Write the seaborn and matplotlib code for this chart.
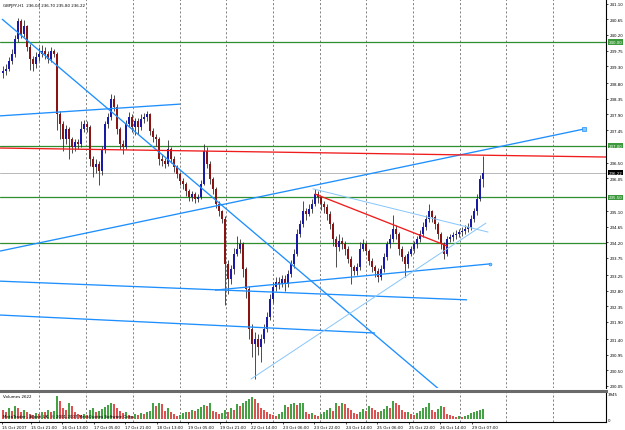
import numpy as np
import pandas as pd
import matplotlib
matplotlib.use("Agg")
import matplotlib.pyplot as plt
import matplotlib.transforms as mtransforms
import seaborn as sns

# ---------------- data ----------------
title_text = "GBPJPY,H1  236.04 236.70 235.80 236.22"
first_open = 239.10
closes = [239.16, 239.22, 239.45, 239.65, 240.08, 240.60, 240.23, 240.46, 239.85, 239.50,
          239.36, 239.56, 239.65, 239.74, 239.65, 239.50, 239.74, 239.65, 237.91, 237.62,
          237.19, 237.48, 237.19, 236.96, 237.10, 237.05, 237.48, 237.62, 237.54, 236.61,
          236.38, 236.47, 236.27, 236.90, 237.62, 237.83, 238.35, 238.12, 237.48, 237.05,
          236.96, 237.62, 237.83, 237.54, 237.71, 237.54, 237.77, 237.83, 237.91, 237.42,
          237.25, 237.19, 236.61, 236.55, 236.47, 236.90, 236.61, 236.38, 236.18, 235.98,
          235.89, 235.69, 235.51, 235.60, 235.46, 235.51, 235.89, 236.84, 236.47, 236.03,
          235.75, 235.31, 235.11, 234.88, 233.58, 233.14, 233.43, 233.87, 234.01, 234.15,
          233.43, 232.85, 231.70, 231.26, 231.41, 231.18, 231.41, 231.70, 232.04, 232.56,
          232.91, 233.06, 233.00, 233.14, 233.00, 233.29, 233.58, 233.87, 234.44, 234.73,
          235.11, 235.02, 235.17, 235.31, 235.60, 235.51, 235.31, 235.22, 235.02, 234.73,
          234.30, 234.07, 234.24, 234.15, 234.01, 233.72, 233.49, 233.37, 233.49, 234.01,
          234.15, 233.95, 233.66, 233.49, 233.37, 233.20, 233.43, 233.78, 234.15, 234.30,
          234.59, 234.44, 234.01, 233.78, 233.58, 233.87, 234.01, 234.15, 234.30, 234.44,
          234.65, 234.88, 235.11, 234.94, 234.73, 234.44, 234.15, 233.87, 234.30, 234.36,
          234.41, 234.44, 234.50, 234.53, 234.59, 234.65, 234.88, 235.11, 235.46, 236.04,
          236.22]
highs = [239.30, 239.35, 239.55, 239.80, 240.20, 240.68, 240.65, 240.62, 240.50, 239.95,
         239.60, 239.70, 239.85, 239.90, 239.85, 239.75, 239.85, 239.80, 239.70, 238.00,
         237.70, 237.60, 237.55, 237.25, 237.20, 237.20, 237.70, 237.75, 237.70, 237.60,
         236.70, 236.60, 236.55, 237.00, 237.70, 237.95, 238.50, 238.45, 238.20, 237.55,
         237.15, 237.75, 237.98, 237.90, 237.80, 237.80, 237.90, 237.95, 238.00, 237.95,
         237.50, 237.35, 237.25, 236.75, 236.65, 237.15, 236.95, 236.70, 236.45, 236.25,
         236.05, 235.95, 235.75, 235.70, 235.65, 235.60, 236.00, 237.05, 236.95, 236.55,
         236.10, 235.80, 235.40, 235.15, 234.95, 233.70, 233.55, 234.05, 234.40, 234.30,
         234.20, 233.50, 232.95, 231.85, 231.60, 231.55, 231.55, 231.85, 232.20, 232.70,
         233.05, 233.20, 233.20, 233.25, 233.25, 233.40, 233.70, 234.00, 234.60, 234.85,
         235.40, 235.20, 235.30, 235.45, 235.75, 235.70, 235.55, 235.40, 235.30, 235.10,
         234.80, 234.40, 234.45, 234.35, 234.25, 234.10, 233.80, 233.55, 233.60, 234.20,
         234.30, 234.20, 234.00, 233.75, 233.55, 233.45, 233.55, 233.90, 234.25, 234.45,
         235.00, 234.70, 234.50, 234.10, 233.85, 233.95, 234.10, 234.25, 234.40, 234.55,
         234.80, 235.00, 235.30, 235.15, 235.00, 234.80, 234.50, 234.20, 234.40, 234.45,
         234.50, 234.55, 234.60, 234.65, 234.70, 234.75, 235.00, 235.20, 235.60, 236.15,
         236.70]
lows = [238.95, 239.05, 239.15, 239.35, 239.55, 240.00, 240.10, 240.15, 239.75, 239.20,
        239.15, 239.25, 239.45, 239.55, 239.50, 239.40, 239.42, 239.55, 237.45, 237.20,
        236.85, 237.05, 236.60, 236.80, 236.85, 236.90, 236.95, 237.40, 237.40, 236.40,
        236.10, 236.20, 235.85, 236.15, 236.80, 237.50, 237.75, 238.00, 237.35, 236.90,
        236.75, 236.90, 237.55, 237.40, 237.30, 237.35, 237.45, 237.65, 237.70, 237.30,
        237.10, 237.00, 236.45, 236.40, 236.35, 236.40, 236.50, 236.25, 236.05, 235.85,
        235.75, 235.55, 235.40, 235.40, 235.35, 235.38, 235.45, 235.85, 236.35, 235.90,
        235.60, 235.20, 234.95, 234.75, 232.40, 232.70, 233.00, 233.30, 233.80, 233.90,
        233.20, 232.60, 231.40, 230.90, 230.25, 230.95, 230.75, 231.30, 231.60, 231.95,
        232.45, 232.80, 232.85, 232.90, 232.80, 232.90, 233.20, 233.45, 233.80, 234.35,
        234.65, 234.85, 234.95, 235.05, 235.25, 235.35, 235.15, 235.05, 234.85, 234.60,
        234.10, 233.50, 233.95, 234.00, 233.85, 233.60, 233.00, 233.25, 233.25, 233.40,
        233.95, 233.85, 233.55, 233.35, 233.20, 233.05, 233.10, 233.35, 233.70, 234.05,
        234.20, 234.30, 233.85, 233.65, 233.20, 233.45, 233.80, 233.90, 234.05, 234.20,
        234.35, 234.55, 234.80, 234.80, 234.60, 234.30, 234.00, 233.72, 233.80, 234.20,
        234.25, 234.30, 234.35, 234.40, 234.45, 234.50, 234.55, 234.80, 235.00, 235.40,
        235.80]
volumes = [1400, 1130, 1700, 1270, 2000, 1700, 1130, 1400, 1000, 700,
           560, 850, 700, 1130, 1000, 1400, 1130, 1270, 3500, 2800,
           1700, 1400, 2500, 2000, 1130, 700, 560, 700, 560, 1400,
           1700, 1130, 1270, 1550, 1830, 2100, 2400, 2250, 1700, 1270,
           850, 1000, 560, 420, 700, 560, 850, 700, 1000, 1270,
           2400, 2000, 2500, 2250, 1270, 1700, 1000, 700, 420, 560,
           850, 1130, 1000, 1400, 1270, 1550, 1830, 2100, 2000, 2500,
           1270, 1000, 700, 850, 1400, 1130, 1700, 1400, 2250, 2000,
           2400, 2800, 3100, 3400, 3100, 2500, 1700, 1400, 1000, 700,
           560, 420, 700, 1130, 2100, 1830, 2250, 2400, 2100, 2400,
           2500, 1130, 700, 850, 560, 420, 700, 1000, 1400, 1700,
           1270, 2400, 2000, 2500, 2250, 1700, 1400, 850, 700, 1130,
           1550, 1270, 2000, 1700, 1400, 1130, 1270, 1550, 2000, 1700,
           2800, 2500, 2100, 1400, 1000, 1130, 700, 560, 850, 1270,
           1700, 1830, 2400, 1400, 1130, 1550, 2000, 1830, 700, 560,
           420, 280, 420, 280, 420, 560, 850, 1130, 1270, 1400,
           1550]

price_labels = [241.10, 240.65, 240.20, 239.75, 239.30, 238.80, 238.35, 237.90, 237.45,
                236.50, 236.05, 235.10, 234.65, 234.20, 233.75, 233.25, 232.80, 232.35,
                231.90, 231.40, 230.95, 230.50, 230.05]
green_levels = [240.00, 237.00, 235.50, 234.18]
boxed_levels = [240.00, 237.00, 235.50]
bid_price = 236.22

date_labels = ["15 Oct 2007", "15 Oct 21:00", "16 Oct 13:00", "17 Oct 05:00", "17 Oct 21:00",
               "18 Oct 13:00", "19 Oct 05:00", "19 Oct 21:00", "22 Oct 14:00", "23 Oct 06:00",
               "23 Oct 22:00", "24 Oct 14:00", "25 Oct 06:00", "25 Oct 22:00", "26 Oct 14:00",
               "29 Oct 07:00"]
date_ticks = [-0.33, 9.33, 19.67, 30.33, 40.67, 51.33, 61.67, 72.33, 82.67, 93.33,
              103.67, 114.33, 124.67, 135.33, 145.67, 156.33]
day_grid = [12, 27.67, 43.33, 59, 74.33, 90, 105.67, 121, 136.67, 152.33, 167.67, 183.33]

# trendlines: (x0, p0, x1, p1)
blue_lines = [(-0.33, 240.66, 145.67, 229.93),
              (-1, 237.86, 59, 238.20),
              (-1, 233.95, 193.67, 237.48),
              (-1, 233.08, 154.67, 232.54),
              (-1, 232.10, 124, 231.58),
              (70.67, 232.82, 162.33, 233.58)]
light_blue_lines = [(82.67, 230.25, 161, 234.76),
                    (103.33, 235.75, 161.67, 234.50)]
red_lines = [(-1, 236.93, 201, 236.67),
             (104, 235.60, 148, 234.10)]

# ---------------- figure ----------------
sns.set_theme(style="white")
plt.rcParams["font.family"] = ["DejaVu Sans"]
FS = 2.9
W, H = 625, 431
fig = plt.figure(figsize=(W / 100, H / 100), dpi=100, facecolor="white")
ax = fig.add_axes([0, 42 / H, 606 / W, 389 / H])
vax = fig.add_axes([0, 8 / H, 606 / W, 31 / H], sharex=ax)

n = len(closes)
idx = np.arange(n)
opens = np.array([first_open] + closes[:-1])
closes_a = np.array(closes)
up = closes_a >= opens

# grid
for g in day_grid:
    for a in (ax, vax):
        a.axvline(g, color="#6e6e6e", lw=0.6, ls=(0, (2.5, 2.5)), zorder=0)

# horizontal levels
for lv in green_levels:
    ax.axhline(lv, color="#2f8f2f", lw=0.9, zorder=1)
ax.axhline(bid_price, color="#b8b8b8", lw=0.7, zorder=1)

# candles
ax.vlines(idx, lows, highs, color="#2e2e2e", lw=0.6, zorder=3)
body = np.where(np.abs(closes_a - opens) < 0.03, 0.03, closes_a - opens)
ax.bar(idx[up], body[up], bottom=opens[up], width=0.8, color="#1a1aa8", lw=0, zorder=4)
ax.bar(idx[~up], body[~up], bottom=opens[~up], width=0.8, color="#8a1414", lw=0, zorder=4)

# trendlines
for x0, p0, x1, p1 in blue_lines:
    ax.plot([x0, x1], [p0, p1], color="#1e8fff", lw=0.95, zorder=5, solid_capstyle="butt")
for x0, p0, x1, p1 in light_blue_lines:
    ax.plot([x0, x1], [p0, p1], color="#86c5fa", lw=0.7, zorder=5)
for x0, p0, x1, p1 in red_lines:
    ax.plot([x0, x1], [p0, p1], color="#f01c1c", lw=0.95, zorder=5)
ax.plot([blue_lines[2][2]], [blue_lines[2][3]], marker="s", ms=2.2, mfc="#86c5fa",
        mec="#1e8fff", mew=0.5, zorder=6)
ax.plot([blue_lines[5][2]], [blue_lines[5][3]], marker="o", ms=2.0, mfc="#86c5fa",
        mec="#1e8fff", mew=0.5, zorder=6)

ax.set_xlim(-1, 201)
ax.set_ylim(229.99, 241.24)
ax.yaxis.tick_right()
ax.set_yticks(price_labels)
ax.set_yticklabels([f"{v:.2f}" for v in price_labels])
ax.tick_params(axis="y", which="both", right=True, length=1.6, width=0.5, pad=1.0,
               labelsize=FS, colors="black", direction="out")
ax.tick_params(axis="x", bottom=False, labelbottom=False)
for s in ("top", "left", "bottom"):
    ax.spines[s].set_visible(False)
ax.spines["right"].set_color("black")
ax.spines["right"].set_linewidth(0.8)
ax.set_facecolor("white")

trans = mtransforms.blended_transform_factory(ax.transAxes, ax.transData)
for lv in boxed_levels:
    ax.text(1.004, lv, f"{lv:.2f}", transform=trans, ha="left", va="center", fontsize=FS,
            color="white", bbox=dict(boxstyle="square,pad=0.2", fc="#3c9a3c", ec="none"),
            zorder=10, clip_on=False)
ax.text(1.004, bid_price, f"{bid_price:.2f}", transform=trans, ha="left", va="center",
        fontsize=FS, color="white", bbox=dict(boxstyle="square,pad=0.2", fc="black", ec="none"),
        zorder=10, clip_on=False)

# volumes
vol_prev = [volumes[0]] + volumes[:-1]
vol_dir = ["up" if v > p else "down" for v, p in zip(volumes, vol_prev)]
vdf = pd.DataFrame({"bar": idx, "volume": volumes, "dir": vol_dir})
sns.barplot(data=vdf, x="bar", y="volume", hue="dir", palette={"up": "#35b035", "down": "#f03c3c"},
            native_scale=True, width=0.45, dodge=False, errorbar=None, legend=False,
            linewidth=0, ax=vax)
vax.set_xlim(-1, 201)
vax.set_ylim(-450, 4250)
vax.yaxis.tick_right()
vax.set_yticks([0, 3945])
vax.set_yticklabels(["0", "3945"])
vax.tick_params(axis="y", length=0, pad=1.5, labelsize=FS, colors="black")
vax.set_xticks(date_ticks)
vax.set_xticklabels(date_labels)
vax.tick_params(axis="x", bottom=True, length=1.6, width=0.5, pad=0.6, labelsize=FS,
                colors="black", direction="out")
for lab in vax.get_xticklabels():
    lab.set_horizontalalignment("left")
vax.set_xlabel("")
vax.set_ylabel("")
vax.spines["left"].set_visible(False)
vax.spines["top"].set_color("#6a6a6a")
vax.spines["top"].set_linewidth(2.2)
vax.spines["right"].set_color("black")
vax.spines["right"].set_linewidth(0.8)
vax.spines["bottom"].set_color("black")
vax.spines["bottom"].set_linewidth(0.8)
vax.set_facecolor("white")

fig.text(3 / W, 1 - 6 / H, title_text, fontsize=FS, ha="left", va="center", color="black")
fig.text(3 / W, 1 - 397 / H, "Volumes 2622", fontsize=FS, ha="left", va="center", color="black")
fig.text(3 / W, 1 - 417 / H, "MetaTrader - Alpari UK, \u00a9 2001-2007 MetaQuotes Software Corp.",
         fontsize=FS, ha="left", va="center", color="black")

fig.savefig("out.png", dpi=100, facecolor="white")
